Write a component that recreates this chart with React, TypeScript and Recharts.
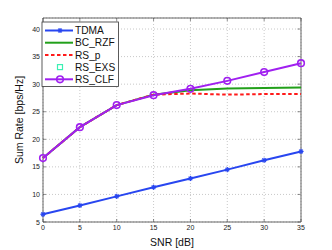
import { CartesianGrid, Line, LineChart, ReferenceArea, XAxis, YAxis } from "recharts"

// SNR points [dB]
const snr = [0, 5, 10, 15, 20, 25, 30, 35]

// sum rate per scheme [bps/Hz]
const tdma = [6.4, 8.0, 9.65, 11.3, 12.9, 14.5, 16.2, 17.8]
const bcRzf = [16.6, 22.2, 26.2, 28.1, 28.9, 29.2, 29.3, 29.4]
const rsP = [16.6, 22.2, 26.2, 28.1, 28.3, 28.1, 28.2, 28.2]
const rsExs = [16.6, 22.2, 26.2, 28.2, 29.2, 30.6, 32.2, 33.8]
const rsClf = [16.6, 22.2, 26.2, 28.0, 29.15, 30.6, 32.2, 33.8]

const xTicks = [0, 5, 10, 15, 20, 25, 30, 35]
const yTicks = [5, 10, 15, 20, 25, 30, 35, 40]

const data = snr.map((s, i) => ({
  snr: s,
  tdma: tdma[i],
  bcRzf: bcRzf[i],
  rsP: rsP[i],
  rsExs: rsExs[i],
  rsClf: rsClf[i],
}))

const FONT = "'Liberation Sans', Arial, sans-serif"
const PLOT_TOP = 18
const PLOT_LEFT = 43

const legendItems = [
  { name: "TDMA", color: "#2846f0", kind: "star" },
  { name: "BC_RZF", color: "#22a01a", kind: "line" },
  { name: "RS_p", color: "#ff1a1a", kind: "dash" },
  { name: "RS_EXS", color: "#3cf0b4", kind: "square" },
  { name: "RS_CLF", color: "#a020f0", kind: "circle" },
]

function StarDot(props: any) {
  const { cx, cy, stroke } = props
  if (cx == null || cy == null) return null
  const r = 2.6
  return (
    <g stroke={stroke} strokeWidth={1.2}>
      <line x1={cx - r} y1={cy} x2={cx + r} y2={cy} />
      <line x1={cx} y1={cy - r} x2={cx} y2={cy + r} />
      <line x1={cx - r * 0.7} y1={cy - r * 0.7} x2={cx + r * 0.7} y2={cy + r * 0.7} />
      <line x1={cx - r * 0.7} y1={cy + r * 0.7} x2={cx + r * 0.7} y2={cy - r * 0.7} />
    </g>
  )
}

function SquareDot(props: any) {
  const { cx, cy, stroke } = props
  if (cx == null || cy == null) return null
  return <rect x={cx - 2.5} y={cy - 2.5} width={5} height={5} fill="none" stroke={stroke} strokeWidth={1.2} />
}

function XTick(props: any) {
  const { x, y, payload } = props
  return (
    <g>
      <line x1={x} y1={y} x2={x} y2={y - 3} stroke="#444" strokeWidth={0.6} />
      <line x1={x} y1={PLOT_TOP} x2={x} y2={PLOT_TOP + 3} stroke="#444" strokeWidth={0.6} />
      <text x={x} y={y + 8} textAnchor="middle" fontSize={7} fontFamily={FONT} fill="#222">
        {payload.value}
      </text>
    </g>
  )
}

function YTick(props: any) {
  const { x, y, payload } = props
  return (
    <g>
      <line x1={x} y1={y} x2={x + 3} y2={y} stroke="#444" strokeWidth={0.6} />
      <line x1={300.5} y1={y} x2={297.5} y2={y} stroke="#444" strokeWidth={0.6} />
      <text x={x - 3} y={y + 2.5} textAnchor="end" fontSize={7} fontFamily={FONT} fill="#222">
        {payload.value}
      </text>
    </g>
  )
}

function LegendBox() {
  return (
    <svg width={332} height={250} style={{ position: "absolute", left: 0, top: 0, pointerEvents: "none" }}>
      <rect x={42} y={22} width={76.5} height={64.5} fill="#fff" stroke="#333" strokeWidth={0.8} />
      {legendItems.map((it, i) => {
        const y = 30.5 + i * 12.2
        return (
          <g key={it.name}>
            {it.kind !== "square" && (
              <line
                x1={45}
                y1={y}
                x2={73}
                y2={y}
                stroke={it.color}
                strokeWidth={2}
                strokeDasharray={it.kind === "dash" ? "3.5 2.5" : undefined}
              />
            )}
            {it.kind === "star" && <StarDot cx={60} cy={y} stroke={it.color} />}
            {it.kind === "square" && <SquareDot cx={60} cy={y} stroke={it.color} />}
            {it.kind === "circle" && <circle cx={60} cy={y} r={3.3} fill="none" stroke={it.color} strokeWidth={1.6} />}
            <text x={75} y={y + 3.6} fontSize={10.2} fontFamily={FONT} fill="#111">
              {it.name}
            </text>
          </g>
        )
      })}
    </svg>
  )
}

export default function App() {
  return (
    <div style={{ position: "absolute", left: 0, top: 0, width: 332, height: 250, background: "#fff" }}>
      <LineChart width={332} height={250} data={data} margin={{ top: PLOT_TOP, right: 31, bottom: 0, left: 0 }}>
        <CartesianGrid stroke="#b0b0b0" strokeDasharray="1 2" strokeWidth={0.7} />
        <XAxis
          dataKey="snr"
          type="number"
          domain={[0, 35]}
          ticks={xTicks}
          height={28}
          tickLine={false}
          tickSize={0}
          tickMargin={0}
          axisLine={false}
          tick={<XTick />}
          label={{ value: "SNR [dB]", position: "insideBottom", offset: 4, fontSize: 10.5, fontFamily: FONT, fill: "#111" }}
        />
        <YAxis
          type="number"
          domain={[5, 42]}
          ticks={yTicks}
          width={PLOT_LEFT}
          tickLine={false}
          tickSize={0}
          tickMargin={0}
          axisLine={false}
          allowDataOverflow
          tick={<YTick />}
          label={{ value: "Sum Rate [bps/Hz]", angle: -90, position: "insideLeft", offset: 19, fontSize: 10.5, fontFamily: FONT, fill: "#111", style: { textAnchor: "middle" } }}
        />
        <ReferenceArea x1={0} x2={35} y1={5} y2={42} fill="none" stroke="#555" strokeWidth={0.9} ifOverflow="visible" />
        <Line dataKey="tdma" stroke="#2846f0" strokeWidth={2} dot={<StarDot />} isAnimationActive={false} />
        <Line dataKey="bcRzf" stroke="#22a01a" strokeWidth={2} dot={false} isAnimationActive={false} />
        <Line dataKey="rsP" stroke="#ff1a1a" strokeWidth={2} strokeDasharray="3.5 2.5" dot={false} isAnimationActive={false} />
        <Line dataKey="rsExs" stroke="none" dot={<SquareDot />} isAnimationActive={false} />
        <Line
          dataKey="rsClf"
          stroke="#a020f0"
          strokeWidth={2}
          dot={{ r: 3.3, fill: "none", stroke: "#a020f0", strokeWidth: 1.6 }}
          isAnimationActive={false}
        />
      </LineChart>
      <LegendBox />
    </div>
  )
}
